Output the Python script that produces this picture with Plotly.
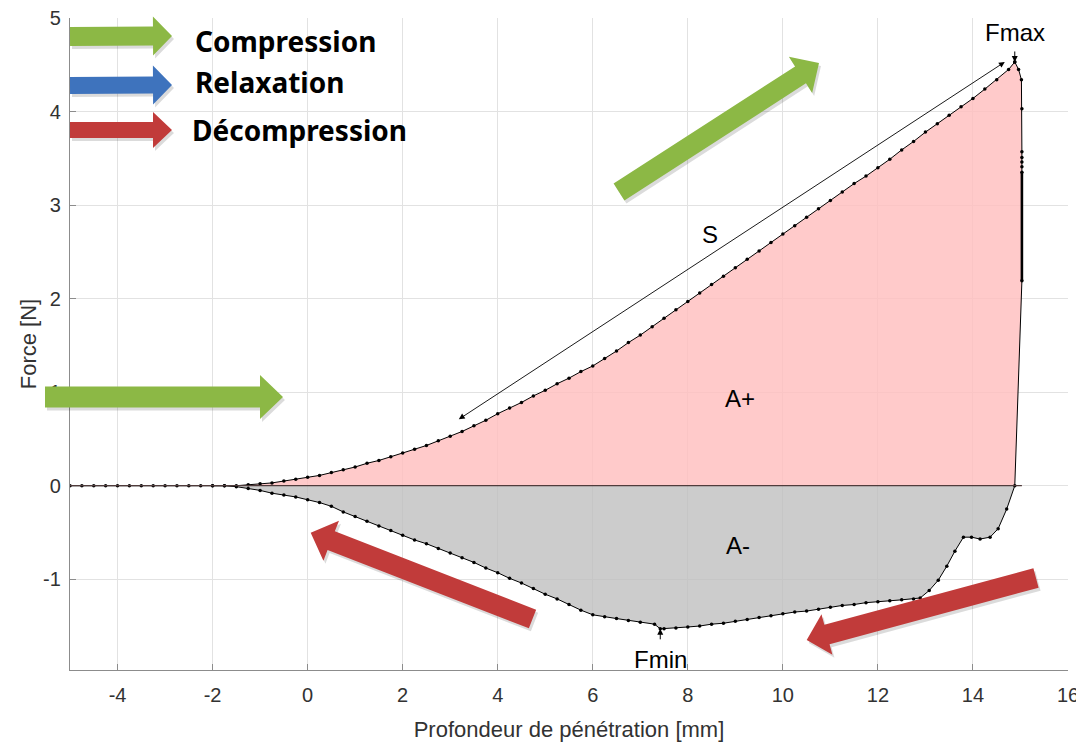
import math
import plotly.graph_objects as go

# ---------------- data ----------------
comp_x = [-5.0, -4.75, -4.5, -4.25, -4.0, -3.75, -3.5, -3.25, -3.0, -2.75, -2.5, -2.25, -2.0,
          -1.75, -1.5, -1.25, -1.0, -0.75, -0.5, -0.25, 0.0, 0.25, 0.5, 0.75, 1.0, 1.25, 1.5, 1.75,
          2.0, 2.25, 2.5, 2.75, 3.0, 3.25, 3.5, 3.75, 4.0, 4.25, 4.5, 4.75, 5.0, 5.25, 5.5, 5.75,
          6.0, 6.25, 6.5, 6.75, 7.0, 7.25, 7.5, 7.75, 8.0, 8.25, 8.5, 8.75, 9.0, 9.25, 9.5, 9.75,
          10.0, 10.25, 10.5, 10.75, 11.0, 11.25, 11.5, 11.75, 12.0, 12.25, 12.5, 12.75, 13.0, 13.25,
          13.5, 13.75, 14.0, 14.25, 14.5, 14.75, 14.88]
comp_y = [0, 0, 0, 0, 0, 0, 0, 0, 0, 0, 0, 0, 0,
          0.00, 0.00, 0.01, 0.02, 0.03, 0.05, 0.07, 0.09, 0.11, 0.14, 0.17, 0.20, 0.24, 0.27, 0.31,
          0.35, 0.39, 0.43, 0.48, 0.53, 0.58, 0.64, 0.70, 0.77, 0.83, 0.89, 0.96, 1.02, 1.09, 1.15, 1.22,
          1.28, 1.36, 1.44, 1.53, 1.61, 1.70, 1.79, 1.88, 1.97, 2.06, 2.15, 2.24, 2.33, 2.42, 2.51, 2.60,
          2.69, 2.78, 2.87, 2.96, 3.05, 3.14, 3.23, 3.31, 3.40, 3.49, 3.59, 3.68, 3.78, 3.87,
          3.96, 4.05, 4.14, 4.24, 4.34, 4.45, 4.53]

relax_x = [14.88, 14.96, 15.02, 15.03, 15.03, 15.03, 15.03, 15.03, 15.03]
relax_y = [4.53, 4.45, 4.34, 4.03, 3.57, 3.51, 3.46, 3.41, 3.35]
relax_dense_x = [15.03, 15.03]
relax_dense_y = [3.35, 2.19]

decomp_x = [15.03, 14.88, 14.71, 14.53, 14.36, 14.15, 13.97, 13.80, 13.62, 13.45, 13.27, 13.08, 12.89,
            12.75, 12.5, 12.25, 12.0, 11.75, 11.5, 11.25, 11.0, 10.75, 10.5, 10.25, 10.0, 9.75, 9.5,
            9.25, 9.0, 8.75, 8.5, 8.25, 8.0, 7.75, 7.5, 7.42, 7.3, 7.0, 6.75, 6.5, 6.25, 6.0, 5.75,
            5.5, 5.25, 5.0, 4.75, 4.5, 4.25, 4.0, 3.75, 3.5, 3.25, 3.0, 2.75, 2.5, 2.25, 2.0, 1.75,
            1.5, 1.25, 1.0, 0.75, 0.5, 0.25, 0.0, -0.25, -0.5, -0.75, -1.0, -1.25, -1.5, -1.75, -2.0]
decomp_y = [2.19, 0.0, -0.25, -0.46, -0.55, -0.57, -0.55, -0.55, -0.70, -0.86, -1.01, -1.12, -1.20,
            -1.21, -1.22, -1.23, -1.24, -1.25, -1.27, -1.28, -1.30, -1.32, -1.34, -1.35, -1.37, -1.39, -1.41,
            -1.43, -1.45, -1.47, -1.48, -1.50, -1.51, -1.52, -1.53, -1.53, -1.48, -1.46, -1.44, -1.42, -1.40, -1.38, -1.33,
            -1.27, -1.21, -1.16, -1.10, -1.04, -0.99, -0.93, -0.88, -0.82, -0.77, -0.72, -0.67, -0.62, -0.58, -0.53, -0.48,
            -0.43, -0.38, -0.33, -0.28, -0.22, -0.18, -0.15, -0.12, -0.10, -0.08, -0.05, -0.03, -0.01, 0.0, 0.0]

fmax_xy = (14.88, 4.53)
fmin_xy = (7.42, -1.53)

x_ticks = [-4, -2, 0, 2, 4, 6, 8, 10, 12, 14, 16]
x_tick_labels = ["-4", "-2", "0", "2", "4", "6", "8", "10", "12", "14", "16"]
y_ticks = [-1, 0, 1, 2, 3, 4, 5]
y_tick_labels = ["-1", "0", "1", "2", "3", "4", "5"]

legend_labels = ["Compression", "Relaxation", "Décompression"]

# ---------------- figure geometry ----------------
# the page body adds an 8 px margin, so the figure is drawn 8 px smaller
OFF = 8
W, H = 1084 - OFF, 747 - OFF
ML, MR, MT, MB = 70 - OFF, 16, 18 - OFF, 77
PW, PH = W - ML - MR, H - MT - MB

def paper(px, py):
    """screen pixel -> paper coordinates"""
    return (px - OFF - ML) / PW, (OFF + H - MB - py) / PH

fig = go.Figure()

# fills
fig.add_trace(go.Scatter(x=comp_x + relax_x + relax_dense_x + [14.88],
                         y=comp_y + relax_y + relax_dense_y + [0],
                         fill="toself", fillcolor="rgba(255,190,190,0.82)",
                         line=dict(width=0), mode="lines", hoverinfo="skip", showlegend=False))
fig.add_trace(go.Scatter(x=decomp_x[1:], y=decomp_y[1:],
                         fill="toself", fillcolor="rgba(190,190,190,0.78)",
                         line=dict(width=0), mode="lines", hoverinfo="skip", showlegend=False))

# zero line
fig.add_shape(type="line", x0=-5, x1=15.03, y0=0, y1=0, xref="x", yref="y",
              line=dict(color="rgb(80,60,60)", width=1.2), layer="above")

mk = dict(size=3.5, color="black")
ln = dict(color="black", width=1)
fig.add_trace(go.Scatter(x=comp_x, y=comp_y, mode="lines+markers", line=ln, marker=mk, showlegend=False))
fig.add_trace(go.Scatter(x=relax_x, y=relax_y, mode="lines+markers", line=ln, marker=mk, showlegend=False))
fig.add_trace(go.Scatter(x=relax_dense_x, y=relax_dense_y, mode="lines", line=dict(color="black", width=2.6),
                         showlegend=False))
fig.add_trace(go.Scatter(x=decomp_x, y=decomp_y, mode="lines+markers", line=ln, marker=mk, showlegend=False))

# ---------------- block arrows ----------------
def arrow_path(tail, tip, bw, hw, hl, off=(0, 0)):
    tx, ty = tail[0] + off[0], tail[1] + off[1]
    px_, py_ = tip[0] + off[0], tip[1] + off[1]
    dx, dy = px_ - tx, py_ - ty
    L = math.hypot(dx, dy)
    ux, uy = dx / L, dy / L
    nx, ny = -uy, ux
    bx, by = px_ - ux * hl, py_ - uy * hl
    pts = [(tx + nx * bw / 2, ty + ny * bw / 2), (bx + nx * bw / 2, by + ny * bw / 2),
           (bx + nx * hw / 2, by + ny * hw / 2), (px_, py_),
           (bx - nx * hw / 2, by - ny * hw / 2), (bx - nx * bw / 2, by - ny * bw / 2),
           (tx - nx * bw / 2, ty - ny * bw / 2)]
    pp = [paper(a, b) for a, b in pts]
    return "M " + " L ".join(f"{a:.5f},{b:.5f}" for a, b in pp) + " Z"

GREEN, BLUE, RED = "#8CB845", "#3E73BD", "#C13B3A"
arrows = [
    ((70, 36.5), (172, 36), 19, 39, 19, GREEN),
    ((70, 85.5), (172, 85), 17, 39, 19, BLUE),
    ((70, 130), (172, 130), 16, 36, 19, RED),
    ((45, 397), (283, 397), 21, 44, 23, GREEN),
    ((619, 192), (819, 63), 20, 43, 22, GREEN),
    ((532.5, 619), (310.7, 532.7), 20, 43, 22, RED),
    ((1036, 578), (806.7, 640), 20, 42, 21, RED),
]
for tail, tip, bw, hw, hl, col in arrows:
    fig.add_shape(type="path", xref="paper", yref="paper",
                  path=arrow_path(tail, tip, bw, hw, hl, off=(2, 3)),
                  fillcolor="rgba(0,0,0,0.14)", line=dict(width=0), layer="above")
    fig.add_shape(type="path", xref="paper", yref="paper",
                  path=arrow_path(tail, tip, bw, hw, hl),
                  fillcolor=col, line=dict(width=0), layer="above")

# partial blue arrowhead at right edge
bp = [paper(1076, 376), paper(1084, 377), paper(1084, 393)]
fig.add_shape(type="path", xref="paper", yref="paper",
              path="M " + " L ".join(f"{a:.5f},{b:.5f}" for a, b in bp) + " Z",
              fillcolor=BLUE, line=dict(width=0), layer="above")

# legend texts
for (lx, ly), lab in zip([(193, 41), (193, 82), (190, 130)], legend_labels):
    px_, py_ = paper(lx, ly)
    fig.add_annotation(x=px_, y=py_, xref="paper", yref="paper", text=f"<b>{lab}</b>",
                       showarrow=False, xanchor="left", yanchor="middle",
                       font=dict(family="Noto Sans, Open Sans, sans-serif", size=28, color="black"))

# ---------------- labels on chart ----------------
TF = "Liberation Sans, Arial, sans-serif"
fig.add_annotation(x=fmax_xy[0], y=4.84, text="Fmax", showarrow=False,
                   font=dict(family=TF, size=24, color="black"))
fig.add_annotation(x=fmax_xy[0], y=fmax_xy[1], ax=0, ay=-12, text="", showarrow=True,
                   arrowhead=2, arrowsize=1.2, arrowwidth=1, arrowcolor="black")
fig.add_annotation(x=fmin_xy[0], y=-1.86, text="Fmin", showarrow=False,
                   font=dict(family=TF, size=24, color="black"))
fig.add_annotation(x=fmin_xy[0], y=fmin_xy[1], ax=0, ay=12, text="", showarrow=True,
                   arrowhead=2, arrowsize=1.2, arrowwidth=1, arrowcolor="black")
fig.add_annotation(x=8.47, y=2.69, text="S", showarrow=False, font=dict(family=TF, size=24, color="black"))
fig.add_annotation(x=9.1, y=0.93, text="A+", showarrow=False, font=dict(family=TF, size=24, color="black"))
fig.add_annotation(x=9.06, y=-0.64, text="A-", showarrow=False, font=dict(family=TF, size=24, color="black"))
fig.add_annotation(x=14.67, y=4.53, ax=3.15, ay=0.70, axref="x", ayref="y", xref="x", yref="y",
                   text="", showarrow=True, arrowside="end+start", arrowhead=2, arrowsize=1.3,
                   arrowwidth=0.9, arrowcolor="black")

# ---------------- axes ----------------
AX = dict(showline=True, linecolor="rgb(140,140,140)", linewidth=1.2, ticks="inside", ticklen=6,
          tickcolor="rgb(140,140,140)", showgrid=True, gridcolor="rgb(226,226,226)", gridwidth=1,
          zeroline=False, automargin=False, ticklabeloverflow="allow",
          tickfont=dict(family=TF, size=20, color="rgb(50,50,50)"))
fig.update_xaxes(range=[-5, 16], tickvals=x_ticks, ticktext=x_tick_labels, ticklabelstandoff=7,
                 title=dict(text="Profondeur de pénétration [mm]", standoff=16,
                            font=dict(family=TF, size=22, color="rgb(50,50,50)")), **AX)
fig.update_yaxes(range=[-1.97, 5], tickvals=y_ticks, ticktext=y_tick_labels, ticklabelstandoff=4,
                 title=dict(text="Force [N]", standoff=0,
                            font=dict(family=TF, size=22, color="rgb(50,50,50)")), **AX)

fig.update_layout(width=W, height=H, margin=dict(l=ML, r=MR, t=MT, b=MB),
                  paper_bgcolor="white", plot_bgcolor="white", showlegend=False)

fig.write_html("out.html")
